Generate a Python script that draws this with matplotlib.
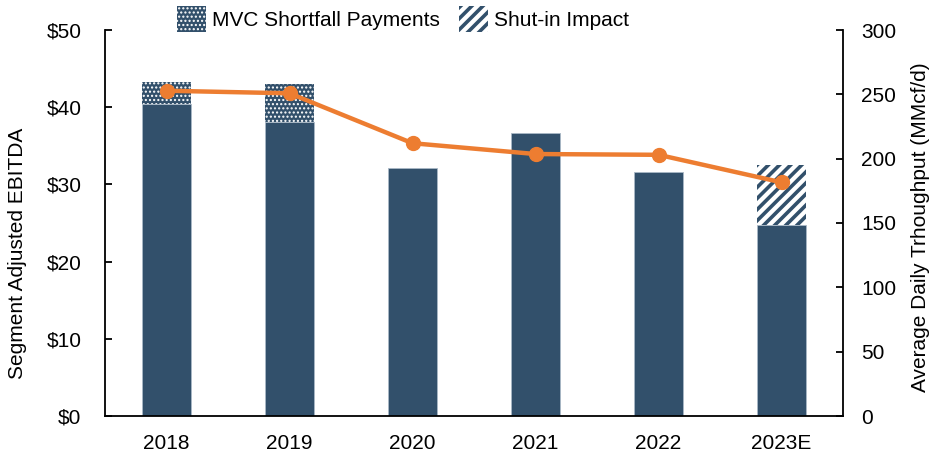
import matplotlib
matplotlib.use("Agg")
import matplotlib.pyplot as plt
import matplotlib.patches as mpatches
from matplotlib.legend_handler import HandlerPatch
from matplotlib.ticker import FuncFormatter, MultipleLocator
import numpy as np

plt.rcParams['font.family'] = ['Liberation Sans', 'DejaVu Sans']

categories = ["2018", "2019", "2020", "2021", "2022", "2023E"]
base_ebitda = [40.4, 38.1, 32.1, 36.7, 31.6, 24.8]
mvc_shortfall = [2.9, 4.9, 0, 0, 0, 0]
shutin_impact = [0, 0, 0, 0, 0, 7.7]
throughput = [252.8, 250.8, 212.0, 203.6, 203.0, 181.6]
legend_labels = ["MVC Shortfall Payments", "Shut-in Impact"]

bar_color = "#32506B"
line_color = "#ED7D31"
FS = 15
DOT_LW = 1.0
STRIPE_LW = 2.6

fig = plt.figure(figsize=(9.33, 4.54), dpi=100)
ax = fig.add_axes([105/933, 1-416/454, (843-105)/933, (416-30)/454])
ax2 = ax.twinx()

x = np.arange(len(categories))
w = 0.4
ax.bar(x, base_ebitda, width=w, color=bar_color, edgecolor="#A9B8C6", linewidth=0.6, zorder=2)
with plt.rc_context({'hatch.linewidth': DOT_LW}):
    mvc = ax.bar(x, mvc_shortfall, width=w, bottom=base_ebitda, facecolor=bar_color,
                 edgecolor="white", hatch="....", linewidth=0, zorder=2)
bot2 = [b + m for b, m in zip(base_ebitda, mvc_shortfall)]
with plt.rc_context({'hatch.linewidth': STRIPE_LW}):
    shut = ax.bar(x, shutin_impact, width=w, bottom=bot2, facecolor="white",
                  edgecolor=bar_color, hatch="///", linewidth=0, zorder=2)

ax2.plot(x, throughput, color=line_color, linewidth=3.2, marker="o", markersize=10, zorder=3)

ax.set_xlim(-0.5, 5.5)
ax.set_ylim(0, 50)
ax2.set_ylim(0, 300)
ax.yaxis.set_major_locator(MultipleLocator(10))
ax2.yaxis.set_major_locator(MultipleLocator(50))
ax.yaxis.set_major_formatter(FuncFormatter(lambda v, p: f"${v:.0f}"))
ax.set_xticks(x)
ax.set_xticklabels(categories)

for a in (ax, ax2):
    a.spines['top'].set_visible(False)
    for s in a.spines.values():
        s.set_linewidth(1.3)
ax.spines['right'].set_visible(False)
ax2.spines['left'].set_visible(False)
ax2.spines['bottom'].set_visible(False)

ax.tick_params(axis='x', length=0, pad=13, labelsize=FS)
ax.tick_params(axis='y', direction='in', length=5, width=1.3, pad=17, labelsize=FS)
ax2.tick_params(axis='y', direction='in', length=5, width=1.3, pad=13, labelsize=FS)

ax2.set_zorder(ax.get_zorder() + 1)
ax2.patch.set_visible(False)

fig.text(18/933, 1-253/454, "Segment Adjusted EBITDA", rotation=90, ha='center', va='center', fontsize=FS)
fig.text(921/933, 1-227/454, "Average Daily Trhoughput (MMcf/d)", rotation=90, ha='center', va='center', fontsize=FS)


def hatch_handler(lw):
    def f(legend, orig_handle, xdescent, ydescent, width, height, fontsize):
        with plt.rc_context({'hatch.linewidth': lw}):
            return mpatches.Rectangle((-xdescent, -ydescent), width, height)
    return HandlerPatch(patch_func=f)


h_mvc = mvc.patches[0]
h_shut = shut.patches[0]
fig.legend(handles=[h_mvc, h_shut], labels=legend_labels, loc='center',
           bbox_to_anchor=(403/933, 1-19/454), ncol=2,
           frameon=False, fontsize=FS, handlelength=1.35, handleheight=1.5,
           handletextpad=0.29, columnspacing=0.96, borderpad=0,
           handler_map={h_mvc: hatch_handler(DOT_LW), h_shut: hatch_handler(STRIPE_LW)})

fig.savefig("out.png", dpi=100)
